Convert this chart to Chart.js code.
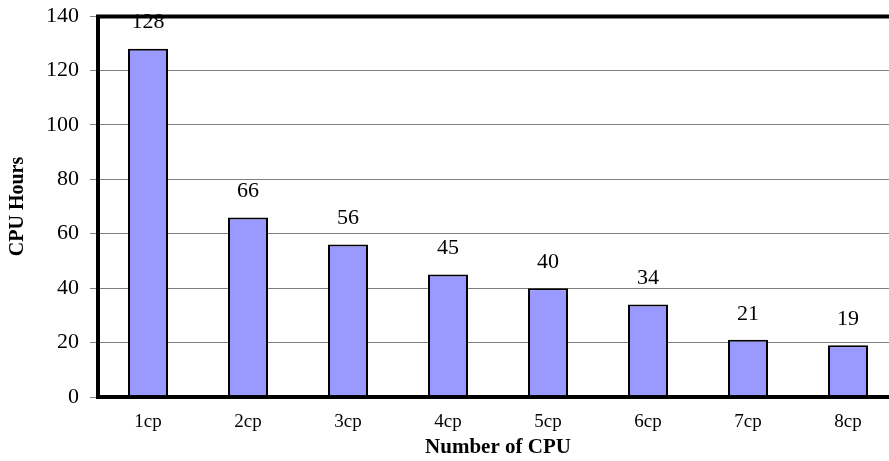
<!DOCTYPE html>
<html>
<head>
<meta charset="utf-8">
<script src="https://cdn.jsdelivr.net/npm/chart.js@4/dist/chart.umd.min.js"></script>
<style>
  html, body { margin: 0; padding: 0; background: #ffffff; overflow: hidden; }
  #wrap { width: 889px; height: 461px; overflow: hidden; }
  canvas { display: block; }
</style>
</head>
<body>
<div id="wrap"><canvas id="chart" width="900" height="461"></canvas></div>
<script>
// CPU hours needed for the job with 1 to 8 processors
const categories = ['1cp', '2cp', '3cp', '4cp', '5cp', '6cp', '7cp', '8cp'];
const cpuHours = [128, 66, 56, 45, 40, 34, 21, 19];
const yTicks = [0, 20, 40, 60, 80, 100, 120, 140];

const serif = '"Liberation Serif", "Times New Roman", Times, serif';

// value labels above each bar, then the heavy frame lines on top
const labelsAndFrame = {
  id: 'labelsAndFrame',
  afterDatasetsDraw(chart) {
    const ctx = chart.ctx;
    const meta = chart.getDatasetMeta(0);
    ctx.save();
    ctx.font = '22px ' + serif;
    ctx.fillStyle = '#000000';
    ctx.textAlign = 'center';
    ctx.textBaseline = 'middle';
    meta.data.forEach((bar, i) => {
      ctx.fillText(String(cpuHours[i]), bar.x, bar.y - 26);
    });
    const a = chart.chartArea;
    ctx.strokeStyle = '#000000';
    ctx.lineWidth = 4;
    ctx.beginPath();
    ctx.moveTo(a.left, a.top + 0.5);
    ctx.lineTo(a.right + 10, a.top + 0.5);
    ctx.moveTo(a.left, a.top - 1.5);
    ctx.lineTo(a.left, a.bottom + 2);
    ctx.moveTo(a.left - 2, a.bottom);
    ctx.lineTo(a.right + 10, a.bottom);
    ctx.stroke();
    ctx.restore();
  }
};

new Chart(document.getElementById('chart'), {
  type: 'bar',
  data: {
    labels: categories,
    datasets: [{
      data: cpuHours,
      backgroundColor: '#9999FF',
      borderColor: '#000000',
      borderWidth: 2,
      borderSkipped: 'start',
      barPercentage: 0.4,
      categoryPercentage: 1.0
    }]
  },
  options: {
    responsive: false,
    animation: false,
    devicePixelRatio: 1,
    layout: { padding: { top: 16, right: 2, left: 0, bottom: 0 } },
    plugins: {
      legend: { display: false },
      tooltip: { enabled: false }
    },
    scales: {
      x: {
        grid: { display: false, drawTicks: false },
        border: { display: false },
        ticks: {
          color: '#000000',
          padding: 14,
          font: { family: serif, size: 19 }
        },
        title: {
          display: true,
          text: 'Number of CPU',
          color: '#000000',
          font: { family: serif, size: 21, weight: 'bold' },
          padding: { top: 0, bottom: 1 }
        },
        afterFit(scale) {
          scale.height = 64;
          scale.paddingLeft = 0;
          scale.paddingRight = 0;
        }
      },
      y: {
        min: 0,
        max: 140,
        afterBuildTicks(scale) { scale.ticks = yTicks.map(v => ({ value: v })); },
        grid: { color: '#808080', lineWidth: 1, tickLength: 8, drawTicks: true },
        border: { display: false },
        ticks: {
          color: '#000000',
          padding: 11,
          font: { family: serif, size: 22 }
        },
        title: {
          display: true,
          text: 'CPU Hours',
          color: '#000000',
          font: { family: serif, size: 20, weight: 'bold' },
          padding: { top: 6, bottom: 0 }
        },
        afterFit(scale) {
          scale.width = 98;
          scale.paddingTop = 0;
          scale.paddingBottom = 0;
        }
      }
    }
  },
  plugins: [labelsAndFrame]
});
</script>
</body>
</html>
